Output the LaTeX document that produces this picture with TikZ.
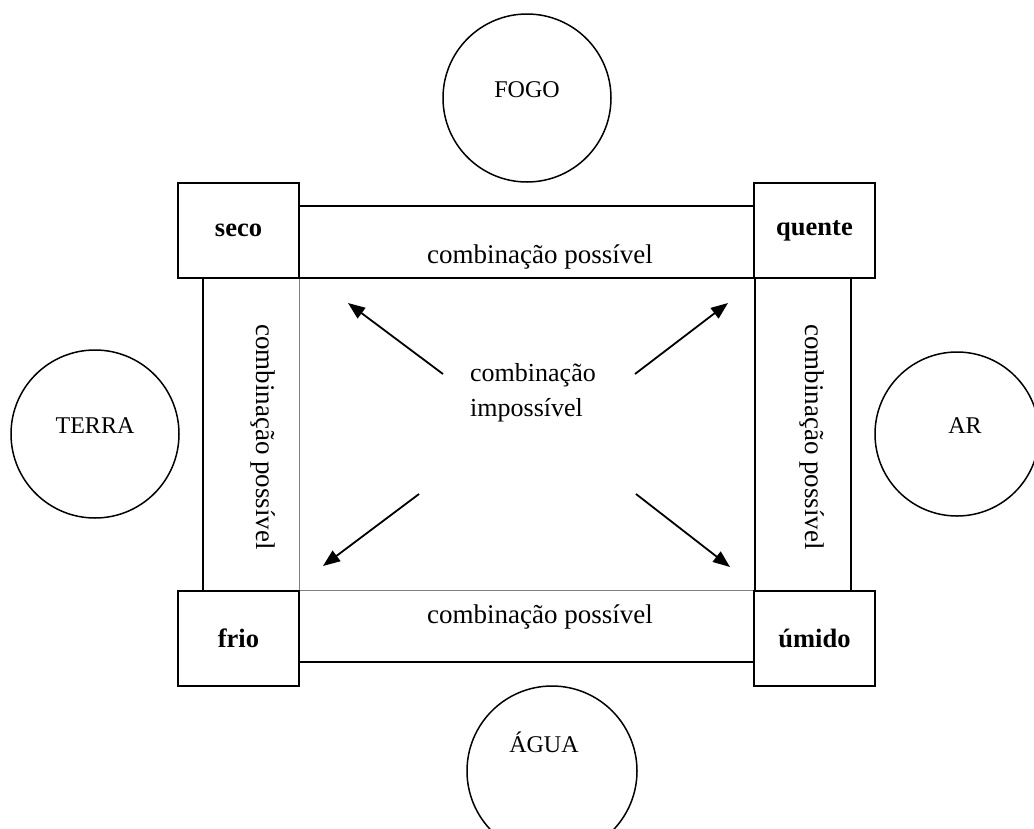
\documentclass[tikz,border=0pt]{standalone}
\usepackage{fontspec}
\setmainfont{Liberation Serif}
\usetikzlibrary{positioning, arrows.meta}

\begin{document}
\begin{tikzpicture}[
    x=1pt, y=-1pt,
    quality/.style={draw=black, line width=1.6pt, fill=white, minimum width=121pt, minimum height=95pt, inner sep=0pt, font=\fontsize{26.5}{30}\selectfont\bfseries},
    element/.style={draw, circle, line width=1.5pt, minimum size=168pt, inner sep=0pt},
    elabel/.style={inner sep=0pt, font=\fontsize{24}{28}\selectfont},
    band/.style={inner sep=0pt, minimum width=#1},
    edge/.style={line width=1.5pt},
    thinedge/.style={line width=0.8pt, gray},
    combo/.style={inner sep=0pt, font=\fontsize{27}{31}\selectfont},
    arr/.style={-{Triangle[length=17pt, width=13pt]}, line width=1.8pt},
]
\clip (0,0) rectangle (1034,828);

% Bands between the qualities
\node[band=456pt, minimum height=72pt] (tband) at (527,242) {};
\node[band=456pt, minimum height=71pt] (bband) at (527,626.5) {};
\node[band=96pt, minimum height=313pt] (lband) at (251,434.5) {};
\node[band=96pt, minimum height=313pt] (rband) at (803,434.5) {};

\draw[edge] (tband.south west) -- (tband.north west) -- (tband.north east) -- (tband.south east) -- cycle;
\draw[edge] (bband.north west) |- (bband.south east) -- (bband.north east);
\draw[thinedge] (bband.north west) -- (bband.north east);
\draw[edge] (lband.north west) |- (lband.south east);
\draw[thinedge] (lband.north east) -- (lband.south east);
\draw[edge] (rband.north west) rectangle (rband.south east);

\node[combo] (tcombo) at (540,257) {combinação possível};
\node[combo] (bcombo) at (540,617) {combinação possível};
\node[combo, rotate=-90] (lcombo) at (263,437) {combinação possível};
\node[combo, rotate=-90] (rcombo) at (812,437) {combinação possível};

% Qualities in the corners
\node[quality] (seco) at (238.5,230.5) {seco};
\node[quality] (quente) at (814.5,230.5) {quente};
\node[quality] (frio) at (238.5,638.5) {frio};
\node[quality] (umido) at (814.5,638.5) {úmido};

% Elements
\node[element] (fogo) at (527,98) {};
\node[elabel, above=0pt of fogo.center] {FOGO};
\node[element] (terra) at (95,434) {};
\node[elabel, above=0pt of terra.center] {TERRA};
\node[element, minimum size=164pt] (ar) at (957,434) {};
\node[elabel, above=0pt of ar.center, xshift=8pt] {AR};
\node[element, minimum size=170pt] (agua) at (552,771) {};
\node[elabel, above=18pt of agua.center, xshift=-8pt] {ÁGUA};

% Centre
\node[combo, align=left, font=\fontsize{26}{35}\selectfont, anchor=west] (imp) at (470,393) {combinação\\impossível};

\coordinate (nw-tail) at (443,374);
\coordinate (nw-head) at (348,303);
\coordinate (ne-tail) at (635,374);
\coordinate (ne-head) at (728,303);
\coordinate (sw-tail) at (419,494);
\coordinate (sw-head) at (323,566);
\coordinate (se-tail) at (636,494);
\coordinate (se-head) at (730,567);

\draw[arr] (nw-tail) -- (nw-head);
\draw[arr] (ne-tail) -- (ne-head);
\draw[arr] (sw-tail) -- (sw-head);
\draw[arr] (se-tail) -- (se-head);

\end{tikzpicture}
\end{document}
